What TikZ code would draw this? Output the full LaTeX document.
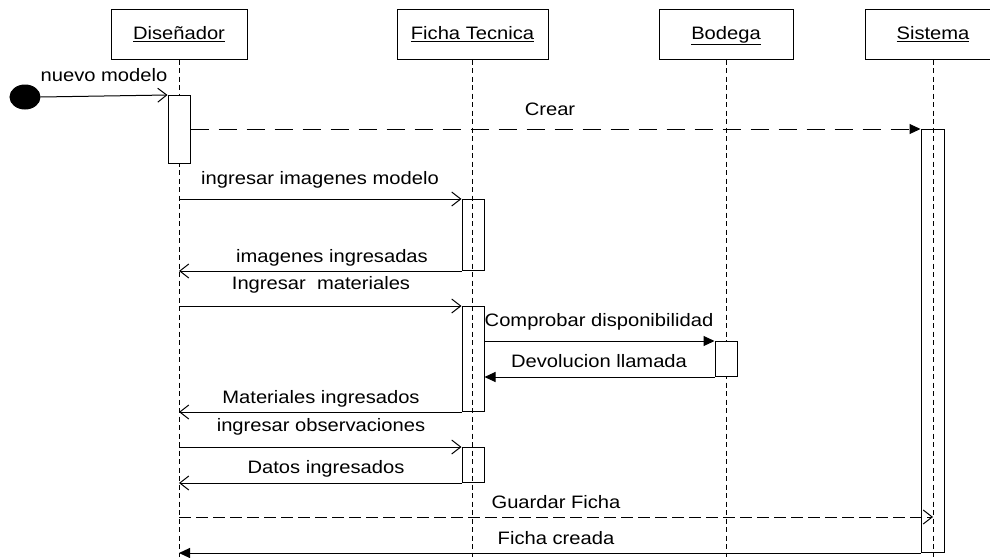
\documentclass[tikz,border=0pt]{standalone}
\usepackage{fontspec}
\setmainfont{Liberation Sans}[FakeStretch=1.12]
\usetikzlibrary{arrows.meta,shapes.geometric}
\begin{document}
\begin{tikzpicture}[x=1pt,y=-1pt,
  line width=1pt,
  every node/.style={font=\fontsize{18}{22}\selectfont},
  actor/.style={draw, minimum height=50pt, inner sep=0pt, text height=13pt, text depth=2pt},
  lifeline/.style={dash pattern=on 5pt off 3.5pt, line width=0.9pt},
  actbox/.style={draw, minimum width=22pt, inner sep=0pt, anchor=north},
  msg/.style={-{Straight Barb[length=9pt,width=14pt]}},
  fmsg/.style={-{Triangle[length=11pt,width=10pt]}},
  longdash/.style={dash pattern=on 18pt off 10pt},
  shortdash/.style={dash pattern=on 12pt off 5pt},
  lbl/.style={anchor=base, inner sep=0pt},
]
\useasboundingbox (0,0) rectangle (990,557);

% participants
\node[actor, minimum width=136pt] (dis) at (179,34) {\underline{Diseñador}};
\node[actor, minimum width=151pt] (fic) at (472.5,34) {\underline{Ficha Tecnica}};
\node[actor, minimum width=134pt] (bod) at (726,34) {\underline{Bodega}};
\node[actor, minimum width=136pt] (sis) at (933,34) {\underline{Sistema}};

% lifeline ends
\coordinate (disEnd) at (179,557);
\coordinate (ficEnd) at (472.5,557);
\coordinate (bodEnd) at (726,557);
\coordinate (sisEnd) at (933,557);

\draw[lifeline] (dis.south) -- (disEnd);
\draw[lifeline] (fic.south) -- (ficEnd);
\draw[lifeline] (bod.south) -- (bodEnd);
\draw[lifeline] (sis.south) -- (sisEnd);

% activation bars
\node[actbox, fill=white, minimum height=68pt] (a1) at (179,95) {};
\node[actbox, minimum height=71pt] (f1) at (473,199) {};
\node[actbox, minimum height=105pt] (f2) at (473,306) {};
\node[actbox, minimum height=35pt] (f3) at (473,447) {};
\node[actbox, fill=white, minimum height=35pt] (b1) at (726,341) {};
\node[actbox, minimum width=23pt, minimum height=423pt] (s1) at (932.5,129) {};

% initial point
\node[ellipse, draw, fill=black, minimum width=30pt, minimum height=24pt, inner sep=0pt] (start) at (25,97) {};

% message ends on the Diseñador lifeline
\coordinate (g1) at (179,517);
\coordinate (g2) at (933,517);

% messages
\draw[msg] (start.east) -- (a1.north west);
\draw[longdash, fmsg] (a1.east |- s1.north west) -- (s1.north west);
\draw[msg] (dis |- f1.north west) -- (f1.north west);
\draw[msg] (f1.south west) -- (dis |- f1.south west);
\draw[msg] (dis |- f2.north west) -- (f2.north west);
\draw[fmsg] (f2.east |- b1.north west) -- (b1.north west);
\draw[fmsg] (b1.south west) -- (f2.east |- b1.south west);
\draw[msg] (f2.south west) -- (dis |- f2.south west);
\draw[msg] (dis |- f3.north west) -- (f3.north west);
\draw[msg] (f3.south west) -- (dis |- f3.south west);
\draw[shortdash, msg] (g1) -- (g2);
\draw[fmsg] (s1.south west) -- (dis |- s1.south west);

% message labels
\node[lbl] (l0) at (104,81) {nuevo modelo};
\node[lbl] (l1) at (550,115) {Crear};
\node[lbl] (l2) at (320,184) {ingresar imagenes modelo};
\node[lbl] (l3) at (332,262) {imagenes ingresadas};
\node[lbl] (l4) at (321,289) {Ingresar\ \ materiales};
\node[lbl] (l5) at (599,326) {Comprobar disponibilidad};
\node[lbl] (l6) at (599,367) {Devolucion llamada};
\node[lbl] (l7) at (321,403) {Materiales ingresados};
\node[lbl] (l8) at (321,431) {ingresar observaciones};
\node[lbl] (l9) at (326,473) {Datos ingresados};
\node[lbl] (l10) at (556,508) {Guardar Ficha};
\node[lbl] (l11) at (556,544) {Ficha creada};
\end{tikzpicture}
\end{document}
